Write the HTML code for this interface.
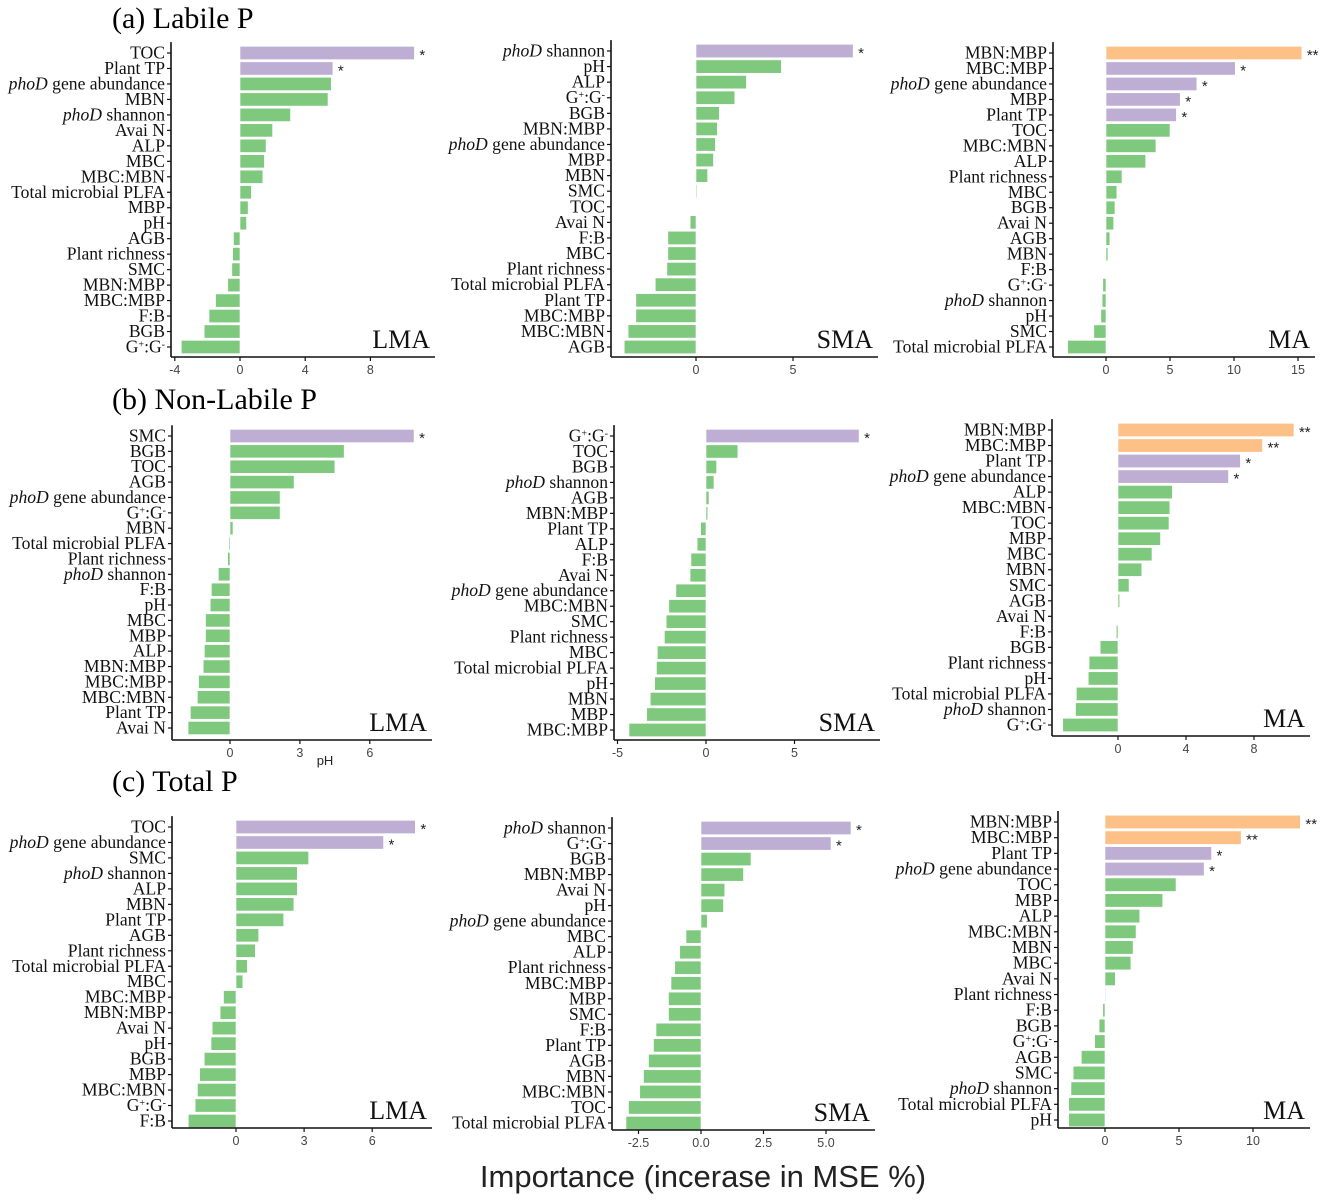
<!DOCTYPE html>
<html><head><meta charset="utf-8"><style>
html,body{margin:0;padding:0;background:#fff;}
svg{display:block;}
</style></head><body>
<svg id="fig" width="1325" height="1200" viewBox="0 0 1325 1200" xmlns="http://www.w3.org/2000/svg">
<text x="112" y="28" font-family="Liberation Serif, serif" font-size="30">(a) Labile P</text>
<text x="112" y="409" font-family="Liberation Serif, serif" font-size="30">(b) Non-Labile P</text>
<text x="112" y="791" font-family="Liberation Serif, serif" font-size="30">(c) Total P</text>
<text x="703" y="1187" text-anchor="middle" font-family="Liberation Sans, sans-serif" font-size="31" fill="#222">Importance (incerase in MSE %)</text>
<text x="325" y="765" text-anchor="middle" font-family="Liberation Sans, sans-serif" font-size="13" fill="#222">pH</text>
</svg>
<script>
// ---- data ----
const aLMA_labels=["TOC","Plant TP","phoD gene abundance","MBN","phoD shannon","Avai N","ALP","MBC","MBC:MBN","Total microbial PLFA","MBP","pH","AGB","Plant richness","SMC","MBN:MBP","MBC:MBP","F:B","BGB","G+:G-"];
const aLMA_values=[10.7,5.7,5.6,5.4,3.1,2.0,1.6,1.5,1.4,0.7,0.5,0.4,-0.4,-0.45,-0.5,-0.75,-1.5,-1.9,-2.2,-3.6];
const aLMA_sig=[1,1,0,0,0,0,0,0,0,0,0,0,0,0,0,0,0,0,0,0];
const aSMA_labels=["phoD shannon","pH","ALP","G+:G-","BGB","MBN:MBP","phoD gene abundance","MBP","MBN","SMC","TOC","Avai N","F:B","MBC","Plant richness","Total microbial PLFA","Plant TP","MBC:MBP","MBC:MBN","AGB"];
const aSMA_values=[8.1,4.4,2.6,2.0,1.2,1.1,1.0,0.9,0.6,0.05,0.02,-0.3,-1.45,-1.45,-1.5,-2.1,-3.1,-3.1,-3.5,-3.7];
const aSMA_sig=[1,0,0,0,0,0,0,0,0,0,0,0,0,0,0,0,0,0,0,0];
const aMA_labels=["MBN:MBP","MBC:MBP","phoD gene abundance","MBP","Plant TP","TOC","MBC:MBN","ALP","Plant richness","MBC","BGB","Avai N","AGB","MBN","F:B","G+:G-","phoD shannon","pH","SMC","Total microbial PLFA"];
const aMA_values=[15.3,10.1,7.1,5.8,5.5,5.0,3.9,3.1,1.25,0.85,0.7,0.6,0.3,0.15,0.02,-0.25,-0.3,-0.4,-0.95,-3.0];
const aMA_sig=[2,1,1,1,1,0,0,0,0,0,0,0,0,0,0,0,0,0,0,0];
const bLMA_labels=["SMC","BGB","TOC","AGB","phoD gene abundance","G+:G-","MBN","Total microbial PLFA","Plant richness","phoD shannon","F:B","pH","MBC","MBP","ALP","MBN:MBP","MBC:MBP","MBC:MBN","Plant TP","Avai N"];
const bLMA_values=[7.9,4.9,4.5,2.75,2.15,2.15,0.13,-0.05,-0.1,-0.5,-0.8,-0.85,-1.05,-1.05,-1.1,-1.15,-1.35,-1.4,-1.7,-1.8];
const bLMA_sig=[1,0,0,0,0,0,0,0,0,0,0,0,0,0,0,0,0,0,0,0];
const bSMA_labels=["G+:G-","TOC","BGB","phoD shannon","AGB","MBN:MBP","Plant TP","ALP","F:B","Avai N","phoD gene abundance","MBC:MBN","SMC","Plant richness","MBC","Total microbial PLFA","pH","MBN","MBP","MBC:MBP"];
const bSMA_values=[8.65,1.8,0.6,0.45,0.17,0.1,-0.3,-0.5,-0.85,-0.9,-1.7,-2.1,-2.25,-2.35,-2.75,-2.8,-2.9,-3.15,-3.35,-4.35];
const bSMA_sig=[1,0,0,0,0,0,0,0,0,0,0,0,0,0,0,0,0,0,0,0];
const bMA_labels=["MBN:MBP","MBC:MBP","Plant TP","phoD gene abundance","ALP","MBC:MBN","TOC","MBP","MBC","MBN","SMC","AGB","Avai N","F:B","BGB","Plant richness","pH","Total microbial PLFA","phoD shannon","G+:G-"];
const bMA_values=[10.35,8.5,7.2,6.5,3.2,3.05,3.0,2.5,2.0,1.4,0.65,0.1,0.0,-0.1,-1.05,-1.7,-1.75,-2.45,-2.5,-3.25];
const bMA_sig=[2,2,1,1,0,0,0,0,0,0,0,0,0,0,0,0,0,0,0,0];
const cLMA_labels=["TOC","phoD gene abundance","SMC","phoD shannon","ALP","MBN","Plant TP","AGB","Plant richness","Total microbial PLFA","MBC","MBC:MBP","MBN:MBP","Avai N","pH","BGB","MBP","MBC:MBN","G+:G-","F:B"];
const cLMA_values=[7.9,6.5,3.2,2.7,2.7,2.55,2.1,1.0,0.85,0.5,0.3,-0.55,-0.7,-1.05,-1.1,-1.4,-1.6,-1.7,-1.8,-2.1];
const cLMA_sig=[1,1,0,0,0,0,0,0,0,0,0,0,0,0,0,0,0,0,0,0];
const cSMA_labels=["phoD shannon","G+:G-","BGB","MBN:MBP","Avai N","pH","phoD gene abundance","MBC","ALP","Plant richness","MBC:MBP","MBP","SMC","F:B","Plant TP","AGB","MBN","MBC:MBN","TOC","Total microbial PLFA"];
const cSMA_values=[6.0,5.2,2.0,1.7,0.95,0.9,0.25,-0.6,-0.85,-1.05,-1.2,-1.3,-1.3,-1.8,-1.9,-2.1,-2.3,-2.45,-2.9,-3.0];
const cSMA_sig=[1,1,0,0,0,0,0,0,0,0,0,0,0,0,0,0,0,0,0,0];
const cMA_labels=["MBN:MBP","MBC:MBP","Plant TP","phoD gene abundance","TOC","MBP","ALP","MBC:MBN","MBN","MBC","Avai N","Plant richness","F:B","BGB","G+:G-","AGB","SMC","phoD shannon","Total microbial PLFA","pH"];
const cMA_values=[13.2,9.2,7.2,6.7,4.8,3.9,2.35,2.1,1.9,1.75,0.7,0.05,-0.15,-0.4,-0.7,-1.6,-2.15,-2.3,-2.45,-2.45];
const cMA_sig=[2,2,1,1,0,0,0,0,0,0,0,0,0,0,0,0,0,0,0,0];
const aLMA_ticks=[-4,0,4,8], aSMA_ticks=[0,5], aMA_ticks=[0,5,10,15];
const bLMA_ticks=[0,3,6], bSMA_ticks=[-5,0,5], bMA_ticks=[0,4,8];
const cLMA_ticks=[0,3,6], cSMA_ticks=[-2.5,0,2.5,5], cMA_ticks=[0,5,10];
const cSMA_tickLabels=["-2.5","0.0","2.5","5.0"];

// ---- layout ----
const NS="http://www.w3.org/2000/svg";
const svg=document.getElementById('fig');
const COLORS=["#7fc97f","#bfaed4","#fdc086"];
function mk(tag,attrs,parent){const e=document.createElementNS(NS,tag);for(const k in attrs)e.setAttribute(k,attrs[k]);(parent||svg).appendChild(e);return e;}
function setLabel(t,s){
  if(s.startsWith("phoD")){const a=mk('tspan',{'font-style':'italic'},t);a.textContent="phoD";const b=mk('tspan',{},t);b.textContent=s.slice(4);return;}
  if(s==="G+:G-"){const a=mk('tspan',{},t);a.textContent="G";const b=mk('tspan',{'baseline-shift':'super','font-size':'10'},t);b.textContent="+";const c=mk('tspan',{},t);c.textContent=":G";const d=mk('tspan',{'baseline-shift':'super','font-size':'10'},t);d.textContent="-";return;}
  t.textContent=s;
}
function panel(name,tag,labels,values,sig,ticks,tickLabels,L){
  const g=mk('g',{});
  
  
  const xs=v=>L.zero+v*L.scale;
  const n=labels.length, step=(L.rowB-L.rowT)/(n-1), bh=step*0.86;
  for(let i=0;i<n;i++){
    const y=L.rowT+i*step, v=values[i];
    const x0=Math.min(xs(0),xs(v)), w=Math.abs(xs(v)-xs(0));
    const r=mk('rect',{x:x0,y:y-bh/2,width:Math.max(w,0.5),height:bh,fill:COLORS[sig[i]],stroke:'#fff','stroke-width':0.6},g);
    
    
    if(sig[i]>0){const st=mk('text',{x:xs(v)+5,y:y+7,'font-family':'Liberation Sans, sans-serif','font-size':15,fill:'#222'},g);st.textContent=sig[i]==2?"**":"*";
      
      }
    const t=mk('text',{x:L.yx-6,y:y+5.5,'text-anchor':'end','font-family':'Liberation Serif, serif','font-size':17.6,fill:'#111'},g);
    setLabel(t,labels[i]);
    
    
    mk('line',{x1:L.yx-4,x2:L.yx,y1:y,y2:y,stroke:'#111','stroke-width':1.2},g);
  }
  mk('line',{x1:L.yx,x2:L.yx,y1:L.rowT-step*0.7,y2:L.ax,stroke:'#111','stroke-width':1.6},g);
  mk('line',{x1:L.yx,x2:L.right,y1:L.ax,y2:L.ax,stroke:'#111','stroke-width':1.6},g);
  ticks.forEach((tk,j)=>{
    const x=xs(tk);
    mk('line',{x1:x,x2:x,y1:L.ax,y2:L.ax+4,stroke:'#111','stroke-width':1.2},g);
    const tl=mk('text',{x:x,y:L.ax+17,'text-anchor':'middle','font-family':'Liberation Sans, sans-serif','font-size':12.5,fill:'#444'},g);
    tl.textContent=tickLabels?tickLabels[j]:String(tk);
    
    
  });
  const pt=mk('text',{x:L.right-5,y:L.ax-9,'text-anchor':'end','font-family':'Liberation Serif, serif','font-size':26,fill:'#111'},g);
  pt.textContent=tag;
  
  
}
panel('panel-a-lma','LMA',aLMA_labels,aLMA_values,aLMA_sig,aLMA_ticks,null,{yx:171,ax:357,right:435,zero:240,scale:16.3,rowT:53,rowB:347});
panel('panel-a-sma','SMA',aSMA_labels,aSMA_values,aSMA_sig,aSMA_ticks,null,{yx:611,ax:357,right:878,zero:696,scale:19.4,rowT:51,rowB:347});
panel('panel-a-ma','MA',aMA_labels,aMA_values,aMA_sig,aMA_ticks,null,{yx:1053,ax:357,right:1315,zero:1106,scale:12.8,rowT:53,rowB:347});
panel('panel-b-lma','LMA',bLMA_labels,bLMA_values,bLMA_sig,bLMA_ticks,null,{yx:172,ax:740,right:432,zero:230,scale:23.3,rowT:436,rowB:728});
panel('panel-b-sma','SMA',bSMA_labels,bSMA_values,bSMA_sig,bSMA_ticks,null,{yx:614,ax:740,right:880,zero:706,scale:17.7,rowT:436,rowB:730});
panel('panel-b-ma','MA',bMA_labels,bMA_values,bMA_sig,bMA_ticks,null,{yx:1052,ax:736,right:1310,zero:1118,scale:17,rowT:430,rowB:725});
panel('panel-c-lma','LMA',cLMA_labels,cLMA_values,cLMA_sig,cLMA_ticks,null,{yx:172,ax:1128,right:432,zero:236,scale:22.7,rowT:827,rowB:1121});
panel('panel-c-sma','SMA',cSMA_labels,cSMA_values,cSMA_sig,cSMA_ticks,cSMA_tickLabels,{yx:612,ax:1130,right:875,zero:701,scale:25,rowT:828,rowB:1123});
panel('panel-c-ma','MA',cMA_labels,cMA_values,cMA_sig,cMA_ticks,null,{yx:1058,ax:1128,right:1310,zero:1105,scale:14.8,rowT:822,rowB:1120});
</script>
</body></html>
